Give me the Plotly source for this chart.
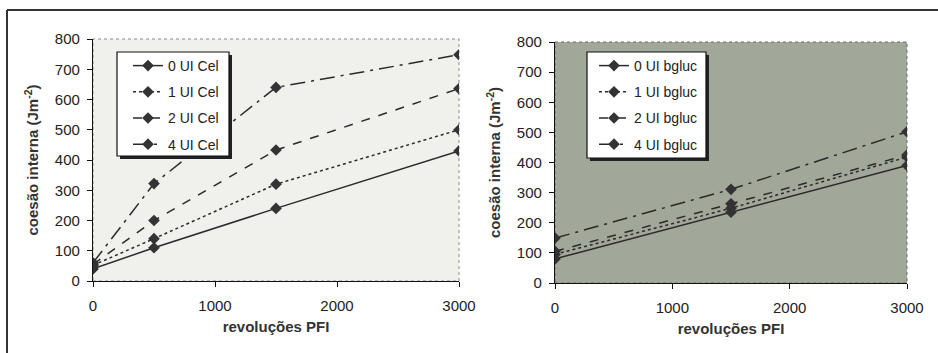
import plotly.graph_objects as go

# ---- data ----
x_cel = [0, 500, 1500, 3000]
cel_names = ["0 UI Cel", "1 UI Cel", "2 UI Cel", "4 UI Cel"]
cel_0 = [40, 110, 240, 430]
cel_1 = [52, 140, 320, 500]
cel_2 = [55, 200, 433, 636]
cel_4 = [60, 322, 640, 748]

x_bg = [0, 1500, 3000]
bg_names = ["0 UI bgluc", "1 UI bgluc", "2 UI bgluc", "4 UI bgluc"]
bg_0 = [80, 235, 390]
bg_1 = [95, 248, 418]
bg_2 = [105, 263, 425]
bg_4 = [149, 311, 502]

x_ticks = [0, 1000, 2000, 3000]
y_ticks = [0, 100, 200, 300, 400, 500, 600, 700, 800]

dashes = ["solid", "dot", "dash", "longdashdot"]

W, H = 938, 353
FONT = "Liberation Sans, Arial, sans-serif"
LINE = "#2a2a2a"

def px(v):
    return v / W

def py(v):
    return 1 - v / H

fig = go.Figure()

for i, (name, ys) in enumerate(zip(cel_names, [cel_0, cel_1, cel_2, cel_4])):
    fig.add_trace(go.Scatter(
        x=x_cel, y=ys, name=name, mode="lines+markers",
        line=dict(color=LINE, width=1.5, dash=dashes[i]),
        marker=dict(symbol="diamond", size=9, color="#333333"),
        xaxis="x", yaxis="y", legend="legend", legendgroup="c%d" % i,
    ))

for i, (name, ys) in enumerate(zip(bg_names, [bg_0, bg_1, bg_2, bg_4])):
    fig.add_trace(go.Scatter(
        x=x_bg, y=ys, name=name, mode="lines+markers",
        line=dict(color=LINE, width=1.5, dash=dashes[i]),
        marker=dict(symbol="diamond", size=9, color="#333333"),
        xaxis="x2", yaxis="y2", legend="legend2", legendgroup="b%d" % i,
    ))

axis_common = dict(
    showline=True, linecolor="#111111", linewidth=1.2,
    ticks="outside", ticklen=5, tickcolor="#111111",
    showgrid=False, zeroline=False,
    tickfont=dict(family=FONT, size=15, color="#222222"),
    automargin=False,
)
xt = dict(text="revoluções PFI", font=dict(family=FONT, size=15, color="#333333", weight="bold"), standoff=8)
yt = dict(text="coesão interna (Jm<sup>-2</sup>)", font=dict(family=FONT, size=15, color="#333333", weight="bold"), standoff=12)

legend_common = dict(
    bgcolor="rgba(0,0,0,0)", borderwidth=0,
    font=dict(family=FONT, size=14, color="#222222"),
    xanchor="left", yanchor="top", tracegroupgap=5,
)

fig.update_layout(
    width=W, height=H,
    margin=dict(l=0, r=0, t=0, b=0),
    paper_bgcolor="white",
    plot_bgcolor="rgba(0,0,0,0)",
    xaxis=dict(domain=[px(93), px(459)], range=[0, 3000], tickvals=x_ticks,
               anchor="y", ticklabelstandoff=6, title=xt, **axis_common),
    yaxis=dict(domain=[py(281), py(39)], range=[0, 800], tickvals=y_ticks,
               anchor="x", ticklabelstandoff=4, title=yt, **axis_common),
    xaxis2=dict(domain=[px(555), px(907)], range=[0, 3000], tickvals=x_ticks,
                anchor="y2", ticklabelstandoff=6, title=xt, **axis_common),
    yaxis2=dict(domain=[py(283), py(42)], range=[0, 800], tickvals=y_ticks,
                anchor="x2", ticklabelstandoff=4, title=yt, **axis_common),
    legend=dict(x=px(128), y=py(50), **legend_common),
    legend2=dict(x=px(594), y=py(50), **legend_common),
    showlegend=True,
)

shapes = [
    # plot backgrounds
    dict(type="rect", xref="x domain", yref="y domain", x0=0, x1=1, y0=0, y1=1,
         fillcolor="#f0f0ec", line=dict(color="#8a8a8a", width=1, dash="dot"), layer="below"),
    dict(type="rect", xref="x2 domain", yref="y2 domain", x0=0, x1=1, y0=0, y1=1,
         fillcolor="#a1a899", line=dict(color="#6a6a6a", width=1, dash="dot"), layer="below"),
    # legend shadows
    dict(type="rect", xref="paper", yref="paper", x0=px(120), x1=px(232), y0=py(159), y1=py(55),
         fillcolor="#222222", line=dict(width=0), layer="above"),
    dict(type="rect", xref="paper", yref="paper", x0=px(590), x1=px(709), y0=py(161), y1=py(55),
         fillcolor="#222222", line=dict(width=0), layer="above"),
    # legend boxes
    dict(type="rect", xref="paper", yref="paper", x0=px(117), x1=px(229), y0=py(156), y1=py(52),
         fillcolor="white", line=dict(color="#111111", width=1.2), layer="above"),
    dict(type="rect", xref="paper", yref="paper", x0=px(587), x1=px(706), y0=py(158), y1=py(52),
         fillcolor="white", line=dict(color="#111111", width=1.2), layer="above"),
    # outer frame
    dict(type="line", xref="paper", yref="paper", x0=px(7), x1=1, y0=py(10), y1=py(10),
         line=dict(color="#333333", width=2)),
    dict(type="line", xref="paper", yref="paper", x0=px(7), x1=px(7), y0=0, y1=py(10),
         line=dict(color="#333333", width=2)),
]
fig.update_layout(shapes=shapes)

fig.write_html("out.html")
